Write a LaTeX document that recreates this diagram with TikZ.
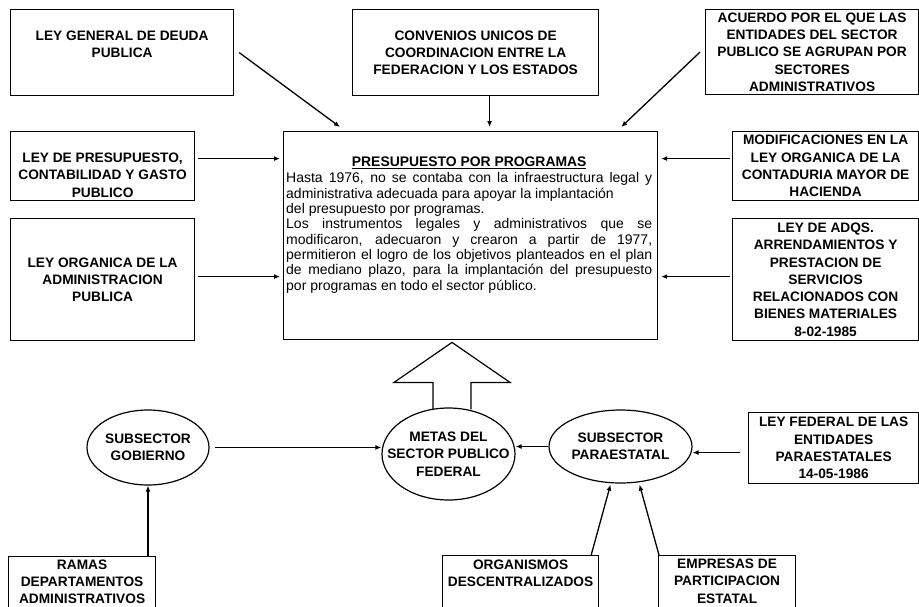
\documentclass[tikz,border=0pt]{standalone}
\usepackage{fontspec}
\setmainfont{Liberation Sans}
\usetikzlibrary{arrows.meta,calc,shapes.geometric}

\tikzset{
  box/.style={draw, line width=1.2pt, anchor=north west, align=center, inner sep=1pt,
    font=\fontsize{13.7}{17.3}\selectfont\bfseries},
  boxtxt/.style={align=center, inner sep=0pt, font=\fontsize{13.7}{17.3}\selectfont\bfseries},
  oval/.style={draw, ellipse, line width=1.2pt, inner sep=0pt},
  conn/.style={line width=1.3pt, -{Latex[length=6pt,width=5pt]}},
}

\begin{document}
\begin{tikzpicture}[x=1pt, y=-1pt]
\useasboundingbox (0,0) rectangle (919,606);
% upper boxes
\node[box, minimum width=223pt, minimum height=86pt,
  label={[boxtxt, yshift=8.5pt]center:{LEY GENERAL DE DEUDA\\PUBLICA}}] (ldp) at (10,9) {};
\node[box, minimum width=246pt, minimum height=86pt] (conv) at (352,9)
  {CONVENIOS UNICOS DE\\COORDINACION ENTRE LA\\FEDERACION Y LOS ESTADOS};
\node[box, minimum width=213pt, minimum height=85pt] (acu) at (705,9)
  {ACUERDO POR EL QUE LAS\\ENTIDADES DEL SECTOR\\PUBLICO SE AGRUPAN POR\\SECTORES\\ADMINISTRATIVOS};
\node[box, minimum width=184pt, minimum height=69pt,
  label={[boxtxt, yshift=-9pt]center:{LEY DE PRESUPUESTO,\\CONTABILIDAD Y GASTO\\PUBLICO}}] (lpc) at (10,131) {};
\node[box, minimum width=184pt, minimum height=122pt] (loa) at (10,218)
  {LEY ORGANICA DE LA\\ADMINISTRACION\\PUBLICA};
\node[box, minimum width=186pt, minimum height=69pt] (mod) at (732,131)
  {MODIFICACIONES EN LA\\LEY ORGANICA DE LA\\CONTADURIA MAYOR DE\\HACIENDA};
\node[box, minimum width=186pt, minimum height=122pt] (adq) at (732,218)
  {LEY DE  ADQS.\\ARRENDAMIENTOS Y\\PRESTACION DE\\SERVICIOS\\RELACIONADOS CON\\BIENES MATERIALES\\8-02-1985};

% central box
\node[box, minimum width=374pt, minimum height=208pt] (ppp) at (283,131) {};
\node[anchor=north west, inner sep=0pt, text width=366pt, align=justify,
  font=\fontsize{14}{15.3}\selectfont]
  (ppptxt) at ([xshift=3pt,yshift=-26pt]ppp.north west)
  {\setlength{\parindent}{0pt}\tolerance=9999 \hbadness=10000 \hyphenpenalty=10000
  \centerline{\fontsize{13.9}{16}\selectfont\bfseries\underline{PRESUPUESTO POR PROGRAMAS}}\par\vspace{0.7pt}
  Hasta 1976, no se contaba con la infraestructura legal y\linebreak
  administrativa adecuada para apoyar la implantación\newline
  del presupuesto por programas.\par
  Los instrumentos legales y administrativos que se\linebreak
  modificaron, adecuaron y crearon a partir de 1977,\linebreak
  permitieron el logro de los objetivos planteados en el plan\linebreak
  de mediano plazo, para la implantación del presupuesto\linebreak
  por programas en todo el sector público.};

% lower part
\node[oval, minimum width=122pt, minimum height=75pt,
  label={[boxtxt]center:{SUBSECTOR\\GOBIERNO}}] (gob) at (148,447.5) {};
\node[oval, minimum width=133pt, minimum height=92pt,
  label={[boxtxt]center:{METAS DEL\\SECTOR PUBLICO\\FEDERAL}}] (metas) at (448.5,454) {};
\node[oval, minimum width=143pt, minimum height=73pt,
  label={[boxtxt]center:{SUBSECTOR\\PARAESTATAL}}] (para) at (620.5,446.5) {};
\node[box, minimum width=170pt, minimum height=71pt] (lfe) at (748,412)
  {LEY FEDERAL DE LAS\\ENTIDADES\\PARAESTATALES\\14-05-1986};
\node[box, minimum width=147pt, minimum height=60pt,
  label={[boxtxt, yshift=5pt]center:{RAMAS\\DEPARTAMENTOS\\ADMINISTRATIVOS}}] (ramas) at (8,556) {};
\node[box, minimum width=156pt, minimum height=60pt,
  label={[boxtxt, yshift=12pt]center:{ORGANISMOS\\DESCENTRALIZADOS}}] (org) at (442,555) {};
\node[box, minimum width=137pt, minimum height=60pt,
  label={[boxtxt, yshift=4.5pt]center:{EMPRESAS DE\\PARTICIPACION\\ESTATAL}}] (emp) at (658,555) {};

% arrows into the central box
\draw[conn] ([xshift=5pt]ldp.east) -- ([xshift=57pt,yshift=4pt]ppp.north west);
\draw[conn] ([xshift=14pt]conv.south) -- ([xshift=19pt,yshift=4pt]ppp.north);
\draw[conn] ([xshift=-5pt]acu.west) -- ([xshift=-37pt,yshift=4pt]ppp.north east);
\draw[conn, shorten >=3pt] ([xshift=3pt,yshift=7.5pt]lpc.east) coordinate (r1) -- (r1 -| ppp.west);
\draw[conn, shorten >=3pt] ([xshift=3pt,yshift=3pt]loa.east) coordinate (r2) -- (r2 -| ppp.west);
\draw[conn, shorten >=3pt] ([xshift=-2pt,yshift=7.5pt]mod.west) coordinate (r3) -- (r3 -| ppp.east);
\draw[conn, shorten >=3pt] ([xshift=-2pt,yshift=3pt]adq.west) coordinate (r4) -- (r4 -| ppp.east);

% hollow arrow up
\draw[line width=1.2pt] ([xshift=3.5pt]metas.north) ++(-19,2) -- ++(0,-27) -- ++(-39,0)
  -- ++(58,-40) -- ++(58,40) -- ++(-39,0) -- ++(0,27);

% arrows of the lower part
\draw[conn] ([xshift=5pt]gob.east) -- (gob.east -| metas.west);
\draw[conn] (para.west) -- (para.west -| metas.east);
\draw[conn] ([xshift=-8pt,yshift=-4.5pt]lfe.west) coordinate (r5) -- (r5 -| para.east);
\draw[conn] (gob.south |- ramas.north) -- (gob.south);
\draw[conn] ([xshift=-8pt]org.north east) -- ([xshift=-10pt,yshift=-1pt]para.south);
\draw[conn] ([xshift=1pt]emp.north west) -- ([xshift=19pt,yshift=-1pt]para.south);
\end{tikzpicture}
\end{document}
